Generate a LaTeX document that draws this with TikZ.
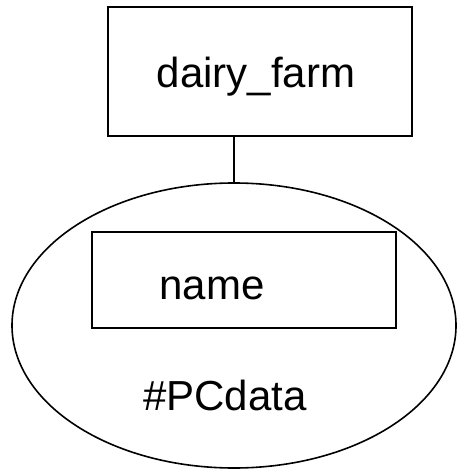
\documentclass[tikz,border=0pt]{standalone}
\usepackage{fontspec}
\setmainfont{Liberation Sans}
\usetikzlibrary{shapes.geometric}

\begin{document}
\begin{tikzpicture}[x=1pt,y=-1pt,font=\fontsize{42}{50}\selectfont]
            \tikzset{
                elem/.style={draw, rectangle, line width=2.6pt, minimum width=304pt, inner sep=0pt},
                txt/.style={anchor=base, inner sep=0pt}
            }
            \useasboundingbox (0,0) rectangle (456,470);

            \node[ellipse, draw, line width=1.6pt, minimum width=444pt, minimum height=285pt, inner sep=0pt] (pcdata) at (234,325.5) {};
            \node[elem, minimum height=129pt] (farm) at (260,71.5) {};
            \node[elem, minimum height=96pt] (name) at (244,280) {};

            \node[txt] (farmtxt) at (256,88) {dairy\_farm};
            \node[txt] (nametxt) at (212,299) {name};
            \node[txt] (pctxt) at (225,410) {\#PCdata};

            \draw[line width=1.6pt] (farm.south -| pcdata.north) -- (pcdata.north);
        \end{tikzpicture}
\end{document}
